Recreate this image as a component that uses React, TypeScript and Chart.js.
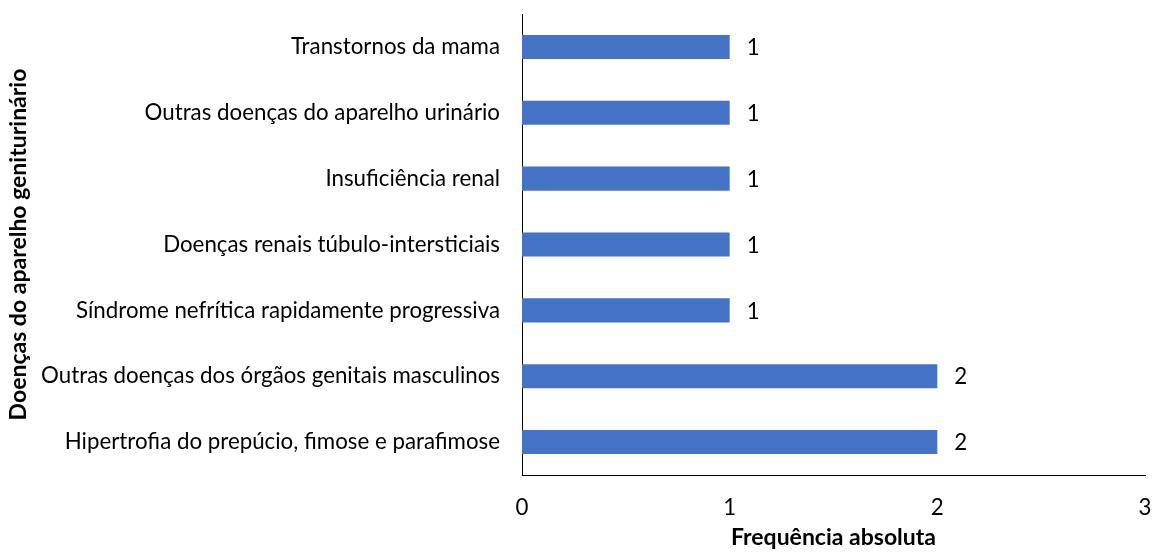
import React, { useEffect, useRef } from "react";
import { Chart, registerables } from "chart.js";

Chart.register(...registerables);

const categories = [
  "Transtornos da mama",
  "Outras doenças do aparelho urinário",
  "Insuficiência renal",
  "Doenças renais túbulo-intersticiais",
  "Síndrome nefrítica rapidamente progressiva",
  "Outras doenças dos órgãos genitais masculinos",
  "Hipertrofia do prepúcio, fimose e parafimose",
];
const values = [1, 1, 1, 1, 1, 2, 2];
const xTicks = [0, 1, 2, 3];
const xTitle = "Frequência absoluta";
const yTitle = "Doenças do aparelho geniturinário";

const FONT = "Lato, 'Open Sans', sans-serif";
const SIZE = 22.3;
const TITLE_SIZE = 23;

const valueLabels = {
  id: "valueLabels",
  afterDatasetsDraw(chart: any) {
    const ctx = chart.ctx;
    const meta = chart.getDatasetMeta(0);
    ctx.save();
    ctx.font = `${SIZE}px ${FONT}`;
    ctx.fillStyle = "#000";
    ctx.textAlign = "left";
    ctx.textBaseline = "middle";
    meta.data.forEach((bar: any, i: number) => {
      ctx.fillText(String(values[i]), bar.x + 17, bar.y + 1);
    });
    ctx.restore();
  },
};

export default function App() {
  const ref = useRef<HTMLCanvasElement | null>(null);
  useEffect(() => {
    if (!ref.current) return;
    const chart = new Chart(ref.current, {
      type: "bar",
      data: {
        labels: categories,
        datasets: [
          {
            data: values,
            backgroundColor: "#4472C4",
            borderWidth: 0,
            barPercentage: 0.365,
            categoryPercentage: 1,
          },
        ],
      },
      options: {
        indexAxis: "y",
        animation: false,
        responsive: false,
        events: [],
        layout: { padding: { top: 14, right: 7, left: 0, bottom: 0 } },
        plugins: { legend: { display: false }, tooltip: { enabled: false } },
        scales: {
          x: {
            min: 0,
            max: 3,
            afterBuildTicks: (s: any) => {
              s.ticks = xTicks.map((v) => ({ value: v }));
            },
            afterFit: (s: any) => {
              s.height = 78;
              s.paddingRight = 0;
              s.paddingLeft = 0;
            },
            grid: { display: false, drawTicks: false },
            border: { display: true, color: "#000", width: 1 },
            ticks: {
              color: "#000",
              padding: 19,
              maxRotation: 0,
              font: { family: FONT, size: SIZE },
            },
            title: {
              display: true,
              text: xTitle,
              color: "#000",
              font: { family: FONT, size: TITLE_SIZE, weight: "bold" },
              padding: { top: 10, bottom: 2 },
            },
          },
          y: {
            afterFit: (s: any) => {
              s.width = 522;
              s.paddingTop = 0;
              s.paddingBottom = 0;
            },
            grid: { display: false, drawTicks: false },
            border: { display: true, color: "#000", width: 1 },
            ticks: {
              color: "#000",
              padding: 22,
              font: { family: FONT, size: SIZE },
            },
            title: {
              display: true,
              text: yTitle,
              color: "#000",
              font: { family: FONT, size: TITLE_SIZE, weight: "bold" },
              padding: { top: 5, bottom: 0 },
            },
          },
        },
      },
      plugins: [valueLabels],
    });
    return () => chart.destroy();
  }, []);
  return (
    <div style={{ position: "absolute", left: 0, top: 0, width: 1152, height: 553, background: "#fff" }}>
      <canvas ref={ref} width={1152} height={553} />
    </div>
  );
}
